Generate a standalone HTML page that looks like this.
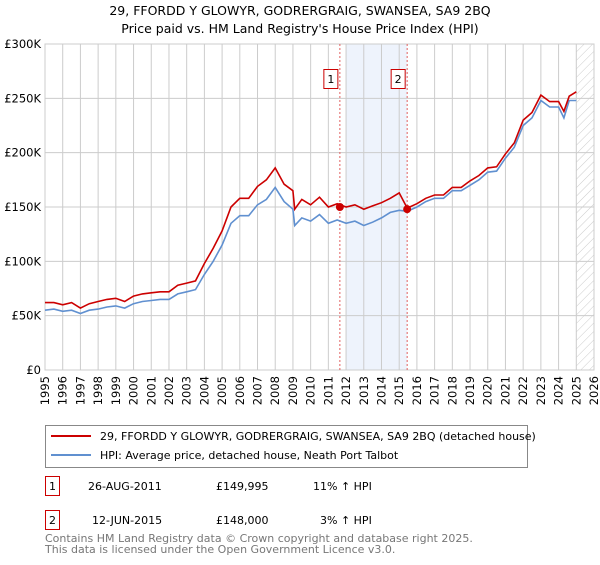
<!DOCTYPE html>
<html><head><meta charset="utf-8"><style>
body{margin:0;background:#fff;font-family:"Liberation Sans","DejaVu Sans",sans-serif;}
svg text{font-family:"DejaVu Sans","Liberation Sans",sans-serif;}
</style></head><body>
<svg id="c" width="600" height="560" xmlns="http://www.w3.org/2000/svg">
<defs><pattern id="hatch" width="6" height="6" patternUnits="userSpaceOnUse" patternTransform="rotate(45)"><line x1="0" y1="0" x2="0" y2="6" stroke="#ccc" stroke-width="1"/></pattern></defs>
<text x="300" y="15" text-anchor="middle" font-size="12.5">29, FFORDD Y GLOWYR, GODRERGRAIG, SWANSEA, SA9 2BQ</text>
<text x="300" y="33" text-anchor="middle" font-size="12.5">Price paid vs. HM Land Registry's House Price Index (HPI)</text>
<g id="grid"></g><g id="plot"></g>
<rect x="45.5" y="425.5" width="482" height="42" fill="#fff" stroke="#888"/>
<line x1="51" y1="436" x2="91" y2="436" stroke="#cc0000" stroke-width="2"/>
<text x="100" y="440" font-size="11">29, FFORDD Y GLOWYR, GODRERGRAIG, SWANSEA, SA9 2BQ (detached house)</text>
<line x1="51" y1="455" x2="91" y2="455" stroke="#6090d0" stroke-width="2"/>
<text x="100" y="459" font-size="11">HPI: Average price, detached house, Neath Port Talbot</text>
<g font-size="11">
<rect x="45.5" y="476.5" width="14" height="19" fill="#fff" stroke="#cc0000"/><text x="52.5" y="490" text-anchor="middle">1</text>
<text x="88" y="490">26-AUG-2011</text><text x="216" y="490">£149,995</text><text x="313" y="490">11% ↑ HPI</text></g>
<g font-size="11">
<rect x="45.5" y="510.5" width="14" height="19" fill="#fff" stroke="#cc0000"/><text x="52.5" y="524" text-anchor="middle">2</text>
<text x="92" y="524">12-JUN-2015</text><text x="216" y="524">£148,000</text><text x="320" y="524">3% ↑ HPI</text></g>
<text x="45" y="542" font-size="11" fill="#777">Contains HM Land Registry data © Crown copyright and database right 2025.</text>
<text x="45" y="553" font-size="11" fill="#777">This data is licensed under the Open Government Licence v3.0.</text>
</svg>
<script>
const hpiYears=[1995,1995.5,1996,1996.5,1997,1997.5,1998,1998.5,1999,1999.5,2000,2000.5,2001,2001.5,2002,2002.5,2003,2003.5,2004,2004.5,2005,2005.5,2006,2006.5,2007,2007.5,2008,2008.5,2009,2009.1,2009.5,2010,2010.5,2011,2011.5,2012,2012.5,2013,2013.5,2014,2014.5,2015,2015.45,2016,2016.5,2017,2017.5,2018,2018.5,2019,2019.5,2020,2020.5,2021,2021.5,2022,2022.5,2023,2023.5,2024,2024.3,2024.6,2025];
const hpiValues=[55,56,54,55,52,55,56,58,59,57,61,63,64,65,65,70,72,74,88,100,115,135,142,142,152,157,168,155,148,133,140,137,143,135,138,135,137,133,136,140,145,147,146,150,155,158,158,165,165,170,175,182,183,195,205,225,232,248,242,242,232,248,248];
const propValues=[62,62,60,62,57,61,63,65,66,63,68,70,71,72,72,78,80,82,98,112,128,150,158,158,169,175,186,171,165,148,157,152,159,150,153,150,152,148,151,154,158,163,149,153,158,161,161,168,168,174,179,186,187,199,209,230,237,253,247,247,238,252,256];
const saleYears=[2011.65,2015.45];
const salePrices=[149.995,148];
const saleLabels=["1","2"];
const yTicks=[0,50,100,150,200,250,300];
const yTickLabels=["£0","£50K","£100K","£150K","£200K","£250K","£300K"];
const xTicks=[];for(let y=1995;y<=2026;y++)xTicks.push(y);
const X0=45,X1=594,Y0=370,Y1=44;
const x=v=>X0+(v-1995)/(2026-1995)*(X1-X0);
const y=v=>Y0-v/300*(Y0-Y1);
const NS="http://www.w3.org/2000/svg";
const grid=document.getElementById('grid'),plot=document.getElementById('plot');
function mk(tag,attrs,parent){const e=document.createElementNS(NS,tag);for(const k in attrs)e.setAttribute(k,attrs[k]);parent.appendChild(e);return e;}
let band=mk('rect',{x:x(2012),y:Y1,width:x(saleYears[1])-x(2012),height:Y0-Y1,fill:'#eef3fc'},grid);


let hat=mk('rect',{x:x(2025),y:Y1,width:X1-x(2025),height:Y0-Y1,fill:'url(#hatch)'},grid);


xTicks.forEach(t=>{mk('line',{x1:x(t),y1:Y1,x2:x(t),y2:Y0,stroke:'#ccc'},grid);
 const tx=mk('text',{x:0,y:0,'font-size':'11.5','text-anchor':'end',transform:`translate(${x(t)+4},376) rotate(-90)`},grid);
 
 
 tx.textContent=t;});
yTicks.forEach((t,i)=>{mk('line',{x1:X0,y1:y(t),x2:X1,y2:y(t),stroke:'#ccc'},grid);
 const tx=mk('text',{x:X0-4,y:y(t)+4,'font-size':'11.5','text-anchor':'end'},grid);
 
 
 tx.textContent=yTickLabels[i];});
mk('rect',{x:X0,y:Y1,width:X1-X0,height:Y0-Y1,fill:'none',stroke:'#ccc'},grid);
saleYears.forEach((s,i)=>{const l=mk('line',{x1:x(s),y1:Y1,x2:x(s),y2:Y0,stroke:'#e06060','stroke-dasharray':'2,2'},plot);
 
 
 const r=mk('rect',{x:x(s)-14.5+(i?0:-0),y:69.5,width:14,height:19,fill:'#fff',stroke:'#cc0000'},plot);
 r.setAttribute('x',x(s)-16);
 
 
 const t=mk('text',{x:x(s)-9,y:83,'font-size':'11','text-anchor':'middle'},plot);
 
 
 t.textContent=saleLabels[i];});
const ptsH=hpiYears.map((v,i)=>x(v).toFixed(1)+','+y(hpiValues[i]).toFixed(1)).join(' ');
const ptsP=hpiYears.map((v,i)=>x(v).toFixed(1)+','+y(propValues[i]).toFixed(1)).join(' ');
const lh=mk('polyline',{points:ptsH,fill:'none',stroke:'#6090d0','stroke-width':1.6},plot);


const lp=mk('polyline',{points:ptsP,fill:'none',stroke:'#cc0000','stroke-width':1.6},plot);


saleYears.forEach((s,i)=>{const c=mk('circle',{cx:x(s),cy:y(salePrices[i]),r:4,fill:'#cc0000'},plot);
 
 });
</script>
</body></html>
